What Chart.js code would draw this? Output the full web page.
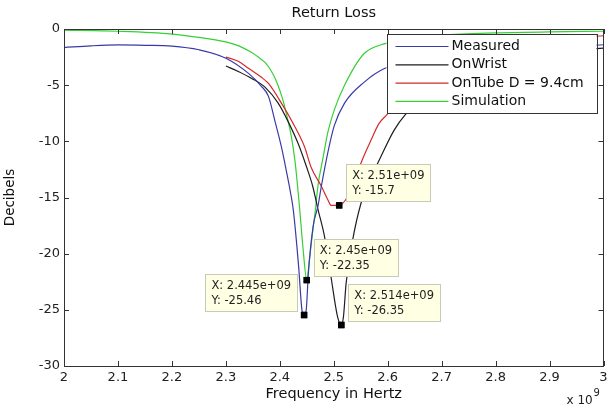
<!DOCTYPE html>
<html>
<head>
<meta charset="utf-8">
<script src="https://cdn.jsdelivr.net/npm/chart.js@4.4.1/dist/chart.umd.min.js"></script>
<style>
  body { margin: 0; background: #fff; }
  canvas { display: block; }
</style>
</head>
<body>
<canvas id="returnLoss" width="608" height="409"></canvas>
<script>
// frequency in GHz (axis shows x 10^9), return loss in dB
const measuredFreq = [2.00, 2.05, 2.10, 2.15, 2.20, 2.25, 2.30, 2.342, 2.366, 2.379, 2.391, 2.403, 2.412, 2.42, 2.425, 2.435, 2.441, 2.445, 2.449, 2.453, 2.462, 2.4706, 2.477, 2.489, 2.501, 2.52, 2.556, 2.595, 2.65, 2.70, 2.80, 2.90, 3.00];
const measuredDb = [-1.65, -1.5, -1.42, -1.45, -1.52, -1.85, -2.6, -3.95, -5.1, -6.0, -8.2, -10.5, -12.6, -14.6, -16.1, -21.2, -25.0, -25.46, -25.0, -21.7, -17.5, -15.8, -14.0, -11.0, -8.6, -6.6, -4.75, -3.5, -2.9, -2.4, -1.9, -1.6, -1.4];

const wristFreq = [2.30, 2.324, 2.348, 2.373, 2.397, 2.415, 2.434, 2.449, 2.461, 2.471, 2.483, 2.495, 2.507, 2.514, 2.518, 2.523, 2.535, 2.55, 2.569, 2.581, 2.612, 2.633, 2.70, 2.80, 2.90, 3.00];
const wristDb = [-3.3, -3.8, -4.4, -5.2, -6.6, -8.2, -10.2, -12.2, -14.0, -16.1, -18.5, -22.1, -25.6, -26.35, -25.6, -22.6, -18.8, -15.6, -13.2, -12.0, -9.0, -7.6, -4.6, -2.8, -2.1, -1.7];

const tubeFreq = [2.30, 2.324, 2.342, 2.366, 2.379, 2.403, 2.428, 2.446, 2.458, 2.477, 2.489, 2.495, 2.51, 2.525, 2.54, 2.55, 2.569, 2.584, 2.599, 2.65, 2.70, 2.80, 2.90, 3.00];
const tubeDb = [-2.5, -2.9, -3.5, -4.3, -4.85, -6.6, -8.7, -10.5, -12.3, -14.0, -15.2, -15.7, -15.7, -15.0, -13.5, -12.0, -9.9, -8.4, -7.6, -4.3, -2.4, -1.2, -0.8, -0.6];

const simFreq = [2.00, 2.10, 2.20, 2.25, 2.30, 2.324, 2.348, 2.36, 2.373, 2.385, 2.395, 2.405, 2.412, 2.4215, 2.428, 2.433, 2.437, 2.443, 2.45, 2.455, 2.461, 2.466, 2.4706, 2.48, 2.489, 2.501, 2.52, 2.556, 2.595, 2.65, 2.70, 2.80, 2.90, 3.00];
const simDb = [-0.1, -0.2, -0.45, -0.75, -1.15, -1.5, -2.1, -2.5, -3.0, -3.8, -4.8, -6.2, -7.5, -9.6, -11.7, -14.0, -16.1, -19.5, -22.35, -20.5, -18.0, -16.1, -14.0, -11.5, -9.2, -7.2, -5.0, -2.2, -1.3, -0.8, -0.55, -0.35, -0.25, -0.2];

// data tips
const tipFreq = [2.51, 2.45, 2.445, 2.514];
const tipDb = [-15.7, -22.35, -25.46, -26.35];
const tipXText = ["2.51e+09", "2.45e+09", "2.445e+09", "2.514e+09"];
const tipYText = ["-15.7", "-22.35", "-25.46", "-26.35"];
const tipSide = ["right", "right", "left", "right"];

const seriesNames = ["Measured", "OnWrist", "OnTube D = 9.4cm", "Simulation"];
const seriesColors = ["#3a3aa6", "#1e1e1e", "#d42a2a", "#35d035"];

const FONT = "'DejaVu Sans', 'Liberation Sans', Arial, sans-serif";

function toPoints(xs, ys) {
    return xs.map((x, i) => ({ x: x, y: ys[i] }));
}

const lineSets = [
    [measuredFreq, measuredDb],
    [wristFreq, wristDb],
    [tubeFreq, tubeDb],
    [simFreq, simDb]
].map(([xs, ys], i) => ({
    label: seriesNames[i],
    data: toPoints(xs, ys),
    showLine: true,
    borderColor: seriesColors[i],
    backgroundColor: seriesColors[i],
    borderWidth: 1.2,
    pointRadius: 0,
    cubicInterpolationMode: "monotone"
}));

const tipSet = {
    label: "tips",
    data: toPoints(tipFreq, tipDb),
    showLine: false,
    pointStyle: "rect",
    pointRadius: 4.5,
    backgroundColor: "#000",
    borderColor: "#000",
    borderWidth: 0
};

// white page, frame, inward ticks, legend, data tips, exponent
const matlabLook = {
    id: "matlabLook",
    beforeDraw(chart) {
        const ctx = chart.ctx;
        ctx.save();
        ctx.fillStyle = "#fff";
        ctx.fillRect(0, 0, chart.width, chart.height);
        ctx.restore();
    },
    afterDatasetsDraw(chart) {
        const ctx = chart.ctx;
        const area = chart.chartArea;
        const xs = chart.scales.x, ys = chart.scales.y;

        // data tip boxes
        ctx.save();
        ctx.font = "11.5px " + FONT;
        tipFreq.forEach((f, i) => {
            const mx = xs.getPixelForValue(f);
            const my = ys.getPixelForValue(tipDb[i]);
            const l1 = "X: " + tipXText[i];
            const l2 = "Y: " + tipYText[i];
            const w = Math.max(ctx.measureText(l1).width, ctx.measureText(l2).width) + 12;
            const h = 37;
            const bx = tipSide[i] === "right" ? mx + 7 : mx - 7 - w;
            const by = my - 4 - h;
            ctx.fillStyle = "#ffffe4";
            ctx.strokeStyle = "#c9c9b8";
            ctx.lineWidth = 1;
            ctx.fillRect(bx, by, w, h);
            ctx.strokeRect(Math.round(bx) + 0.5, Math.round(by) + 0.5, Math.round(w), h);
            ctx.fillStyle = "#222";
            ctx.textBaseline = "middle";
            ctx.textAlign = "left";
            ctx.fillText(l1, bx + 6, by + 12);
            ctx.fillText(l2, bx + 6, by + 27);
        });
        ctx.restore();

        // redraw markers on top
        chart.getDatasetMeta(4).controller.draw();

        // legend box
        ctx.save();
        const lw = 210, lh = 79;
        const lx = area.right - 7 - lw;
        const ly = area.top + 5;
        ctx.fillStyle = "#fff";
        ctx.fillRect(lx, ly, lw, lh);
        ctx.strokeStyle = "#333";
        ctx.lineWidth = 1;
        ctx.strokeRect(Math.round(lx) + 0.5, Math.round(ly) + 0.5, lw, lh);
        ctx.font = "14px " + FONT;
        ctx.textBaseline = "middle";
        ctx.textAlign = "left";
        chart.data.datasets.slice(0, 4).forEach((ds, i) => {
            const yy = ly + 12.5 + i * 18.3;
            ctx.strokeStyle = ds.borderColor;
            ctx.lineWidth = 1.2;
            ctx.beginPath();
            ctx.moveTo(lx + 9, yy);
            ctx.lineTo(lx + 62, yy);
            ctx.stroke();
            ctx.fillStyle = "#111";
            ctx.fillText(ds.label, lx + 65, yy);
        });
        ctx.restore();
    },
    afterDraw(chart) {
        const ctx = chart.ctx;
        const a = chart.chartArea;
        const xs = chart.scales.x, ys = chart.scales.y;
        const tl = 5;
        ctx.save();
        ctx.strokeStyle = "#333";
        ctx.lineWidth = 1;
        ctx.beginPath();
        xs.ticks.forEach(t => {
            const px = Math.round(xs.getPixelForValue(t.value)) + 0.5;
            ctx.moveTo(px, a.bottom); ctx.lineTo(px, a.bottom - tl);
            ctx.moveTo(px, a.top); ctx.lineTo(px, a.top + tl);
        });
        ys.ticks.forEach(t => {
            const py = Math.round(ys.getPixelForValue(t.value)) + 0.5;
            ctx.moveTo(a.left, py); ctx.lineTo(a.left + tl, py);
            ctx.moveTo(a.right, py); ctx.lineTo(a.right - tl, py);
        });
        ctx.stroke();
        ctx.strokeRect(Math.round(a.left) + 0.5, Math.round(a.top) + 0.5,
            Math.round(a.right - a.left) - 1, Math.round(a.bottom - a.top));

        // exponent label
        ctx.fillStyle = "#222";
        ctx.textBaseline = "middle";
        ctx.textAlign = "left";
        ctx.font = "12px " + FONT;
        ctx.fillText("x 10", a.right - 37, a.bottom + 35);
        ctx.font = "10px " + FONT;
        ctx.fillText("9", a.right - 10, a.bottom + 27);
        ctx.restore();
    }
};

const chart = new Chart(document.getElementById("returnLoss"), {
    type: "scatter",
    data: { datasets: lineSets.concat([tipSet]) },
    options: {
        responsive: false,
        animation: false,
        devicePixelRatio: 1,
        layout: { padding: { left: 0, right: 1, top: 0, bottom: 0 } },
        plugins: {
            legend: { display: false },
            tooltip: { enabled: false },
            title: {
                display: true,
                text: "Return Loss",
                fullSize: false,
                color: "#111",
                font: { family: FONT, size: 14.5, weight: "normal" },
                padding: { top: 5, bottom: 6.6 }
            }
        },
        scales: {
            x: {
                type: "linear",
                min: 2,
                max: 3,
                grid: { display: false, drawTicks: false, tickLength: 0 },
                border: { display: false },
                ticks: {
                    stepSize: 0.1,
                    padding: 4,
                    color: "#222",
                    maxRotation: 0,
                    font: { family: FONT, size: 13 },
                    callback: v => String(Number(v.toFixed(1)))
                },
                title: {
                    display: true,
                    text: "Frequency in Hertz",
                    color: "#111",
                    font: { family: FONT, size: 14.5 },
                    padding: { top: 0, bottom: 6.3 }
                },
                afterFit(scale) {
                    scale.height = 43;
                    scale.paddingLeft = 0;
                    scale.paddingRight = 0;
                }
            },
            y: {
                min: -30,
                max: 0,
                grid: { display: false, drawTicks: false, tickLength: 0 },
                border: { display: false },
                ticks: {
                    stepSize: 5,
                    padding: 4,
                    color: "#222",
                    font: { family: FONT, size: 13 }
                },
                title: {
                    display: true,
                    text: "Decibels",
                    color: "#111",
                    font: { family: FONT, size: 13.5 },
                    padding: { top: 2, bottom: 0 }
                },
                afterFit(scale) {
                    scale.width = 64;
                    scale.paddingTop = 0;
                    scale.paddingBottom = 0;
                }
            }
        }
    },
    plugins: [matlabLook]
});
</script>
</body>
</html>
